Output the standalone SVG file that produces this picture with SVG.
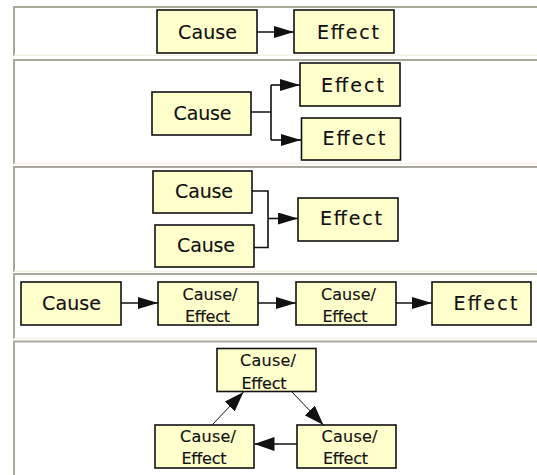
<svg xmlns="http://www.w3.org/2000/svg" width="537" height="475" viewBox="0 0 537 475">
<defs>
<style>
.box{fill:#ffffcc;stroke:#111;stroke-width:1.6}
.t{font-family:"DejaVu Sans","Liberation Sans",sans-serif;fill:#111;stroke:#111;stroke-width:0.15}
.big{font-size:19px}
.sm{font-size:16px}
.ln{fill:none;stroke:#111;stroke-width:1.6}
.thin{fill:none;stroke:#111;stroke-width:1}
.fd{stroke:#a9a899;stroke-width:2;fill:none}
.fl{stroke:#f3f1e6;stroke-width:1.5;fill:none}
</style>
<marker id="ah" markerUnits="userSpaceOnUse" markerWidth="20" markerHeight="12" refX="20" refY="6" orient="auto" viewBox="0 0 20 12">
<path d="M0,0 L20,6 L0,12 z" fill="#111"/>
</marker>
<marker id="ah2" markerUnits="userSpaceOnUse" markerWidth="20" markerHeight="14" refX="20" refY="7" orient="auto" viewBox="0 0 20 14">
<path d="M0,0 L20,7 L0,14 z" fill="#111"/>
</marker>
</defs>
<rect width="537" height="475" fill="#fff"/>
<g id="frames">
<path class="fd" d="M14,56 V7 H537"/>
<path class="fl" d="M14,55.5 H537"/>
<path class="fd" d="M14,164 V60 H537"/>
<path class="fl" d="M14,163.5 H537"/>
<path class="fd" d="M14,272 V167 H537"/>
<path class="fl" d="M14,271.5 H537"/>
<path class="fd" d="M14,339 V274 H537"/>
<path class="fl" d="M14,338.5 H537"/>
<path class="fd" d="M14,475 V341.5 H537"/>
</g>
<g id="connectors">
<path class="ln" d="M257,32 H294" marker-end="url(#ah)"/>
<path class="ln" d="M251,112 H271 M271,85 V140"/>
<path class="ln" d="M271,85 H300" marker-end="url(#ah)"/>
<path class="ln" d="M271,140 H301" marker-end="url(#ah)"/>
<path class="ln" d="M252,191 H268 V247.5 H254"/>
<path class="ln" d="M268,218.5 H298" marker-end="url(#ah)"/>
<path class="ln" d="M121,303 H158" marker-end="url(#ah)"/>
<path class="ln" d="M258,303 H296" marker-end="url(#ah)"/>
<path class="ln" d="M396,303 H432" marker-end="url(#ah)"/>
<path class="ln" d="M297,444 H254.5" marker-end="url(#ah2)"/>
<path class="thin" d="M212,425 L243.5,392" marker-end="url(#ah2)"/>
<path class="thin" d="M292,392 L323.5,425" marker-end="url(#ah2)"/>
</g>
<g id="p1-cause"><rect class="box" x="157" y="10" width="100" height="43"/><text class="t big" x="178" y="38.5" textLength="59" lengthAdjust="spacing">Cause</text></g>
<g id="p1-effect"><rect class="box" x="294" y="10" width="100" height="43"/><text class="t big" x="317" y="38.5" textLength="62" lengthAdjust="spacing">Effect</text></g>
<g id="p2-cause"><rect class="box" x="152" y="92" width="99" height="43"/><text class="t big" x="173.5" y="120" textLength="58" lengthAdjust="spacing">Cause</text></g>
<g id="p2-effect1"><rect class="box" x="300" y="63" width="100" height="43"/><text class="t big" x="321" y="92" textLength="63" lengthAdjust="spacing">Effect</text></g>
<g id="p2-effect2"><rect class="box" x="301.5" y="118" width="99" height="42"/><text class="t big" x="322.5" y="145" textLength="63" lengthAdjust="spacing">Effect</text></g>
<g id="p3-cause1"><rect class="box" x="153" y="171" width="99" height="42"/><text class="t big" x="175" y="197.5" textLength="58" lengthAdjust="spacing">Cause</text></g>
<g id="p3-cause2"><rect class="box" x="155" y="225" width="99" height="42"/><text class="t big" x="177" y="251.5" textLength="58" lengthAdjust="spacing">Cause</text></g>
<g id="p3-effect"><rect class="box" x="298" y="198" width="100" height="43"/><text class="t big" x="320" y="225" textLength="62" lengthAdjust="spacing">Effect</text></g>
<g id="p4-cause"><rect class="box" x="21" y="282" width="100" height="43"/><text class="t big" x="42" y="310" textLength="59" lengthAdjust="spacing">Cause</text></g>
<g id="p4-ce1"><rect class="box" x="158" y="282" width="100" height="43"/><text class="t sm" x="182.5" y="300" textLength="55" lengthAdjust="spacing">Cause/</text><text class="t sm" x="185" y="322" textLength="45" lengthAdjust="spacing">Effect</text></g>
<g id="p4-ce2"><rect class="box" x="296" y="282" width="100" height="43"/><text class="t sm" x="321" y="300" textLength="55" lengthAdjust="spacing">Cause/</text><text class="t sm" x="322.5" y="322" textLength="45" lengthAdjust="spacing">Effect</text></g>
<g id="p4-effect"><rect class="box" x="432" y="282" width="99" height="43"/><text class="t big" x="453.5" y="310" textLength="64" lengthAdjust="spacing">Effect</text></g>
<g id="p5-top"><rect class="box" x="217" y="348.5" width="99" height="43"/><text class="t sm" x="240" y="366" textLength="56" lengthAdjust="spacing">Cause/</text><text class="t sm" x="241.5" y="388.5" textLength="45" lengthAdjust="spacing">Effect</text></g>
<g id="p5-left"><rect class="box" x="155" y="425" width="99" height="43"/><text class="t sm" x="180" y="441.5" textLength="56" lengthAdjust="spacing">Cause/</text><text class="t sm" x="181.5" y="464" textLength="45" lengthAdjust="spacing">Effect</text></g>
<g id="p5-right"><rect class="box" x="297" y="425" width="99" height="43"/><text class="t sm" x="321.5" y="441.5" textLength="56" lengthAdjust="spacing">Cause/</text><text class="t sm" x="323" y="464" textLength="45" lengthAdjust="spacing">Effect</text></g>
</svg>
